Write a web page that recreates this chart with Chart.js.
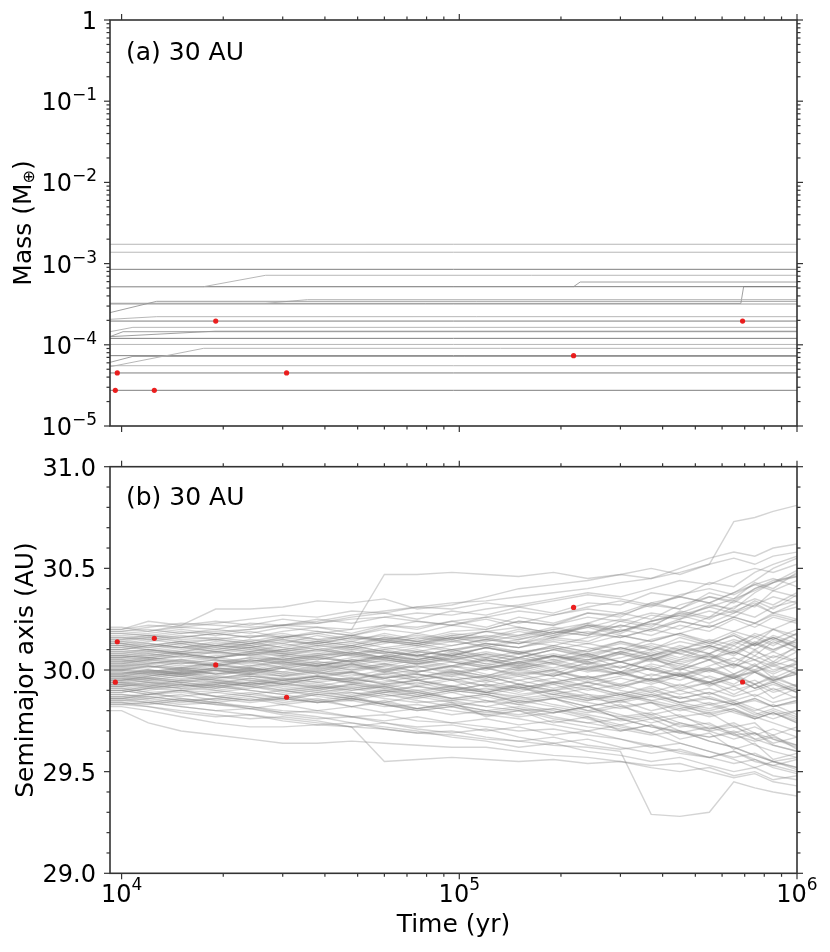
<!DOCTYPE html>
<html><head><meta charset="utf-8">
<script src="https://cdn.jsdelivr.net/npm/chart.js@4"></script>
<style>
html,body{margin:0;padding:0;background:#fff;width:830px;height:952px;overflow:hidden}
canvas{position:absolute;left:0}
#ca{top:0}
#cb{top:440px}
</style></head><body>
<canvas id="ca" width="830" height="440"></canvas>
<canvas id="cb" width="830" height="512"></canvas>
<script>
// ---------------- data ----------------
const timeMin = 9240, timeMax = 1e6;
const xMajorTicks = [1e4, 1e5, 1e6];
const xTickBase = ['10', '10', '10'];
const xTickExp = ['4', '5', '6'];
const xMinorTicks = [2e4,3e4,4e4,5e4,6e4,7e4,8e4,9e4,2e5,3e5,4e5,5e5,6e5,7e5,8e5,9e5];

const massMajorTicks = [1e-5, 1e-4, 1e-3, 1e-2, 1e-1, 1];
const massTickBase = ['10','10','10','10','10','1'];
const massTickExp = ['\u22125','\u22124','\u22123','\u22122','\u22121',''];
const massMinorTicks = [2e-5,3e-5,4e-5,5e-5,6e-5,7e-5,8e-5,9e-5,
  2e-4,3e-4,4e-4,5e-4,6e-4,7e-4,8e-4,9e-4,
  2e-3,3e-3,4e-3,5e-3,6e-3,7e-3,8e-3,9e-3,
  2e-2,3e-2,4e-2,5e-2,6e-2,7e-2,8e-2,9e-2,
  0.2,0.3,0.4,0.5,0.6,0.7,0.8,0.9];

const aMajorTicks = [29, 29.5, 30, 30.5, 31];
const aTickLabels = ['29.0', '29.5', '30.0', '30.5', '31.0'];
const aMinorTicks = [29.1,29.2,29.3,29.4,29.6,29.7,29.8,29.9,30.1,30.2,30.3,30.4,30.6,30.7,30.8,30.9];

// mass tracks of bodies (time, mass)
const massTrackTimes = [
  [9240, 1e6], [9240, 1e6], [9240, 1e6],
  [9240, 17500, 26700, 1e6],
  [9240, 218000, 228000, 1e6],
  [9240, 1e6],
  [9240, 12700, 1e6],
  [9240, 26700, 35500, 1e6],
  [9240, 682000, 695000, 1e6],
  [9240, 1e6],
  [9240, 12700, 1e6],
  [9240, 1e6],
  [9240, 10800, 1e6],
  [9240, 18900, 1e6],
  [9240, 10100, 1e6],
  [9240, 1e6], [9240, 1e6],
  [9240, 17500, 1e6],
  [9240, 1e6],
  [9240, 10800, 1e6],
  [9240, 1e6], [9240, 1e6], [9240, 1e6]
];
const massTrackValues = [
  [1.73e-3, 1.73e-3], [1.38e-3, 1.38e-3], [8.5e-4, 8.5e-4],
  [5.2e-4, 5.2e-4, 7.18e-4, 7.18e-4],
  [5.2e-4, 5.2e-4, 5.93e-4, 5.93e-4],
  [5.2e-4, 5.2e-4],
  [2.49e-4, 3.43e-4, 3.43e-4],
  [3.24e-4, 3.24e-4, 3.6e-4, 3.6e-4],
  [3.24e-4, 3.24e-4, 5.2e-4, 5.2e-4],
  [3.18e-4, 3.18e-4],
  [2.06e-4, 2.22e-4, 2.22e-4],
  [1.96e-4, 1.96e-4],
  [1.45e-4, 1.64e-4, 1.64e-4],
  [1.26e-4, 1.47e-4, 1.47e-4],
  [1.26e-4, 1.45e-4, 1.45e-4],
  [1.20e-4, 1.20e-4], [1.01e-4, 1.01e-4],
  [5.37e-5, 9.05e-5, 9.05e-5],
  [7.35e-5, 7.35e-5],
  [6.08e-5, 7.2e-5, 7.2e-5],
  [5.53e-5, 5.53e-5], [4.5e-5, 4.5e-5], [2.75e-5, 2.75e-5]
];
// style (0 = light, 1 = mid, 2 = dark) kept separate from data
const massTrackShade = [0,0,2, 0,1,2, 1,0,1,1, 0,2, 0,1,1, 2,0, 0,2,1, 0,2,2];

// marked events (red dots)
const eventTimes = [9710, 9580, 12500, 19000, 30800, 218000, 690000];
const eventMass  = [4.5e-5, 2.75e-5, 2.75e-5, 1.96e-4, 4.5e-5, 7.35e-5, 1.96e-4];
const eventA     = [30.139, 29.94, 30.156, 30.025, 29.866, 30.308, 29.941];

// semimajor axis tracks
const aTimes = [9240,10000,12000,15000,19000,24000,30000,38000,48000,60000,75000,95000,
  120000,150000,190000,240000,300000,370000,450000,550000,650000,750000,850000,1000000];
const aTracks = [
 [30.15,30.15,30.16,30.18,30.19,30.20,30.22,30.23,30.25,30.26,30.28,30.27,30.30,30.32,30.35,30.38,30.36,30.40,30.44,30.42,30.47,30.50,30.48,30.52],
 [29.88,29.88,29.87,29.85,29.83,29.82,29.80,29.79,29.77,29.78,29.75,29.74,29.72,29.70,29.71,29.68,29.66,29.62,29.64,29.60,29.57,29.59,29.55,29.52],
 [30.02,30.02,30.03,30.01,30.04,30.06,30.05,30.08,30.07,30.10,30.12,30.09,30.13,30.11,30.16,30.14,30.20,30.17,30.22,30.19,30.25,30.21,30.26,30.23],
 [29.97,29.97,29.96,29.98,29.95,29.93,29.94,29.91,29.92,29.89,29.90,29.86,29.88,29.84,29.86,29.82,29.85,29.80,29.83,29.78,29.81,29.76,29.79,29.74],
 [30.08,30.08,30.10,30.09,30.12,30.11,30.14,30.13,30.16,30.15,30.13,30.17,30.15,30.19,30.16,30.22,30.18,30.24,30.28,30.25,30.31,30.35,30.32,30.38],
 [29.92,29.92,29.93,29.91,29.90,29.92,29.89,29.91,29.88,29.90,29.87,29.90,29.93,29.89,29.94,29.97,29.93,29.98,29.95,30.00,29.96,30.02,29.98,30.03],
 [30.05,30.05,30.04,30.02,30.03,30.00,30.01,29.98,29.99,29.96,29.98,29.95,29.97,29.93,29.96,29.92,29.88,29.91,29.86,29.89,29.84,29.80,29.83,29.78],
 [30.12,30.12,30.11,30.13,30.10,30.12,30.09,30.11,30.08,30.10,30.07,30.05,30.08,30.04,30.07,30.03,30.06,30.10,30.06,30.12,30.08,30.14,30.10,30.15],
 [29.85,29.85,29.84,29.82,29.80,29.81,29.78,29.76,29.77,29.74,29.72,29.73,29.70,29.72,29.68,29.70,29.73,29.69,29.74,29.70,29.66,29.69,29.64,29.67],
 [30.18,30.18,30.19,30.21,30.20,30.23,30.22,30.25,30.23,30.26,30.24,30.22,30.25,30.21,30.18,30.21,30.17,30.14,30.18,30.13,30.17,30.12,30.16,30.11],
 [29.95,29.95,29.97,29.99,30.01,30.00,30.03,30.02,30.05,30.04,30.07,30.05,30.02,30.06,30.03,29.99,30.02,29.97,30.01,29.96,29.92,29.95,29.90,29.93],
 [30.00,30.00,29.99,29.98,29.96,29.97,29.95,29.93,29.90,29.92,29.89,29.86,29.84,29.87,29.83,29.80,29.77,29.79,29.74,29.71,29.74,29.69,29.66,29.63],
 [30.10,30.10,30.12,30.14,30.15,30.17,30.16,30.18,30.20,30.22,30.21,30.24,30.26,30.23,30.27,30.30,30.28,30.33,30.36,30.33,30.38,30.42,30.39,30.44],
 [29.90,29.90,29.88,29.89,29.87,29.85,29.86,29.84,29.85,29.82,29.83,29.80,29.78,29.80,29.76,29.74,29.71,29.68,29.70,29.65,29.62,29.58,29.55,29.57],
 [30.04,30.04,30.06,30.05,30.07,30.09,30.08,30.06,30.04,30.06,30.03,30.05,30.08,30.06,30.10,30.07,30.11,30.08,30.04,30.07,30.02,30.05,30.00,30.03],
 [29.98,29.98,30.00,29.99,30.01,29.99,30.02,30.04,30.03,30.06,30.09,30.07,30.11,30.14,30.12,30.16,30.19,30.23,30.20,30.26,30.29,30.26,30.31,30.34],
 [30.14,30.14,30.13,30.11,30.12,30.10,30.08,30.10,30.07,30.05,30.08,30.04,30.01,30.03,29.99,29.96,29.99,29.95,29.98,29.93,29.96,29.91,29.94,29.89],
 [29.87,29.87,29.88,29.90,29.89,29.91,29.93,29.92,29.95,29.94,29.97,29.99,29.96,30.00,29.97,30.01,30.04,30.00,30.05,30.08,30.04,30.09,30.06,30.11],
 [30.20,30.20,30.22,30.21,30.23,30.25,30.27,30.26,30.29,30.28,30.31,30.30,30.33,30.31,30.34,30.37,30.35,30.32,30.36,30.33,30.29,30.33,30.28,30.31],
 [29.83,29.83,29.82,29.80,29.78,29.76,29.77,29.75,29.72,29.74,29.71,29.69,29.71,29.67,29.64,29.66,29.62,29.59,29.61,29.57,29.54,29.56,29.52,29.49],
 [30.07,30.07,30.06,30.08,30.06,30.04,30.06,30.03,30.01,30.03,29.99,30.02,29.98,29.95,29.98,29.94,29.97,30.01,29.97,30.02,30.06,30.02,30.07,30.04],
 [29.93,29.93,29.95,29.94,29.96,29.98,29.97,30.00,29.98,29.96,29.99,30.02,30.00,30.04,30.07,30.05,30.09,30.13,30.10,30.15,30.12,30.18,30.15,30.20],
 [30.11,30.11,30.10,30.08,30.09,30.07,30.05,30.02,30.04,30.01,29.98,29.95,29.97,29.93,29.90,29.92,29.88,29.85,29.87,29.83,29.85,29.81,29.78,29.80],
 [29.96,29.96,29.94,29.93,29.91,29.93,29.90,29.92,29.89,29.87,29.89,29.86,29.88,29.85,29.87,29.84,29.81,29.84,29.80,29.83,29.79,29.76,29.79,29.75],
 [30.03,30.03,30.05,30.07,30.06,30.08,30.10,30.12,30.11,30.14,30.13,30.16,30.14,30.17,30.20,30.18,30.22,30.20,30.25,30.29,30.26,30.32,30.36,30.33],
 [29.89,29.89,29.91,29.90,29.92,29.90,29.88,29.90,29.87,29.89,29.92,29.90,29.93,29.91,29.88,29.91,29.87,29.90,29.86,29.89,29.85,29.88,29.84,29.87],
 [30.16,30.16,30.17,30.15,30.16,30.14,30.17,30.15,30.13,30.16,30.14,30.12,30.15,30.13,30.16,30.19,30.16,30.20,30.24,30.21,30.26,30.23,30.27,30.24],
 [29.94,29.94,29.93,29.95,29.94,29.92,29.90,29.88,29.89,29.86,29.84,29.85,29.82,29.80,29.81,29.78,29.75,29.77,29.73,29.70,29.72,29.68,29.71,29.67],
 [30.06,30.06,30.07,30.09,30.08,30.10,30.09,30.07,30.09,30.06,30.04,30.07,30.05,30.02,30.05,30.01,30.04,30.00,29.97,30.00,29.96,29.99,30.02,29.98],
 [29.99,29.99,29.98,30.00,30.02,30.01,29.99,29.97,29.99,29.96,29.98,29.95,29.92,29.95,29.91,29.94,29.90,29.87,29.90,29.86,29.83,29.86,29.82,29.85],
 [30.19,30.19,30.21,30.23,30.22,30.21,30.22,30.21,30.20,30.47,30.47,30.48,30.47,30.46,30.48,30.45,30.47,30.50,30.47,30.52,30.55,30.52,30.56,30.58],
 [29.82,29.82,29.80,29.77,29.74,29.72,29.72,29.73,29.72,29.55,29.56,29.57,29.56,29.55,29.56,29.54,29.55,29.52,29.50,29.52,29.48,29.50,29.46,29.48],
 [30.12,30.12,30.14,30.16,30.18,30.20,30.22,30.24,30.27,30.29,30.31,30.33,30.34,30.36,30.38,30.40,30.43,30.45,30.48,30.52,30.73,30.75,30.78,30.81],
 [29.86,29.86,29.84,29.82,29.80,29.78,29.76,29.74,29.72,29.71,29.69,29.68,29.66,29.65,29.63,29.62,29.60,29.29,29.28,29.30,29.45,29.42,29.40,29.38],
 [30.20,30.20,30.24,30.22,30.30,30.30,30.31,30.34,30.33,30.35,30.30,30.32,30.36,30.40,30.42,30.44,30.47,30.45,30.50,30.55,30.58,30.56,30.60,30.62],
 [29.80,29.80,29.74,29.70,29.68,29.66,29.64,29.64,29.65,29.64,29.63,29.62,29.62,29.60,29.58,29.57,29.55,29.53,29.54,29.50,29.47,29.49,29.45,29.43],
 [30.13,30.13,30.15,30.13,30.11,30.13,30.16,30.19,30.17,30.21,30.24,30.22,30.26,30.29,30.27,30.31,30.34,30.31,30.37,30.40,30.37,30.42,30.45,30.41],
 [29.91,29.91,29.89,29.86,29.84,29.82,29.79,29.77,29.74,29.72,29.70,29.67,29.65,29.62,29.64,29.60,29.58,29.55,29.57,29.53,29.50,29.52,29.48,29.46],
 [30.01,30.01,30.03,30.05,30.03,30.06,30.04,30.07,30.10,30.08,30.11,30.14,30.12,30.15,30.18,30.22,30.19,30.24,30.27,30.31,30.35,30.39,30.43,30.47],
 [29.95,29.95,29.94,29.92,29.93,29.90,29.88,29.85,29.87,29.83,29.80,29.82,29.78,29.76,29.73,29.70,29.66,29.63,29.60,29.57,29.60,29.56,29.53,29.50],
 [30.09,30.09,30.08,30.10,30.12,30.11,30.13,30.10,30.12,30.09,30.07,30.10,30.06,30.09,30.05,30.08,30.04,30.07,30.11,30.08,30.13,30.17,30.13,30.18],
 [29.86,29.86,29.87,29.85,29.86,29.84,29.86,29.88,29.86,29.89,29.87,29.90,29.88,29.91,29.94,29.92,29.96,29.93,29.97,29.94,29.98,30.02,29.99,30.04],
 [30.04,30.04,30.02,30.00,29.98,29.99,29.97,29.95,29.96,29.93,29.95,29.92,29.90,29.93,29.89,29.86,29.89,29.85,29.82,29.79,29.81,29.77,29.74,29.70],
 [29.97,29.97,29.99,30.01,30.00,30.02,30.05,30.03,30.06,30.09,30.07,30.10,30.13,30.11,30.15,30.13,30.17,30.14,30.18,30.22,30.19,30.16,30.20,30.17],
 [30.17,30.17,30.18,30.20,30.18,30.16,30.18,30.15,30.17,30.14,30.12,30.15,30.11,30.08,30.11,30.07,30.04,30.07,30.03,30.00,30.03,29.99,29.95,29.98],
 [29.84,29.84,29.83,29.85,29.83,29.81,29.83,29.80,29.82,29.79,29.81,29.78,29.80,29.77,29.79,29.82,29.78,29.74,29.77,29.73,29.69,29.72,29.68,29.72],
 [30.00,30.00,30.02,30.01,30.03,30.05,30.04,30.02,30.05,30.07,30.05,30.08,30.11,30.09,30.06,30.10,30.14,30.11,30.08,30.12,30.09,30.13,30.10,30.14],
 [29.93,29.93,29.92,29.94,29.92,29.94,29.96,29.94,29.91,29.93,29.90,29.92,29.89,29.86,29.88,29.85,29.88,29.92,29.88,29.91,29.87,29.90,29.93,29.89],
 [30.05,30.05,30.06,30.04,30.06,30.08,30.07,30.10,30.08,30.11,30.09,30.12,30.15,30.13,30.17,30.21,30.25,30.22,30.28,30.33,30.38,30.44,30.50,30.55],
 [29.96,29.96,29.95,29.97,29.95,29.93,29.95,29.92,29.90,29.92,29.88,29.85,29.87,29.83,29.80,29.76,29.72,29.69,29.64,29.60,29.56,29.52,29.55,29.51],
 [30.10,30.10,30.09,30.11,30.13,30.12,30.10,30.13,30.11,30.14,30.12,30.16,30.16,30.13,30.19,30.17,30.24,30.21,30.29,30.26,30.34,30.31,30.39,30.36],
 [29.90,29.90,29.92,29.91,29.93,29.95,29.93,29.96,29.94,29.91,29.94,29.90,29.88,29.84,29.86,29.80,29.83,29.76,29.78,29.71,29.73,29.66,29.68,29.61],
 [30.03,30.03,30.01,30.04,30.02,30.05,30.03,30.00,30.03,29.99,30.02,29.98,30.01,29.97,30.00,29.95,29.99,29.94,29.98,29.92,29.97,29.91,29.95,29.90],
 [29.97,29.97,29.99,29.97,30.00,29.98,30.01,29.99,30.03,30.00,30.04,30.01,30.05,30.02,30.07,30.03,30.08,30.04,30.10,30.05,30.12,30.07,30.14,30.09],
 [30.13,30.13,30.12,30.14,30.12,30.15,30.13,30.17,30.14,30.18,30.15,30.19,30.20,30.24,30.22,30.28,30.26,30.33,30.30,30.38,30.35,30.43,30.40,30.48],
 [29.88,29.88,29.86,29.88,29.85,29.87,29.84,29.86,29.82,29.85,29.81,29.84,29.77,29.80,29.74,29.77,29.70,29.73,29.66,29.69,29.61,29.64,29.56,29.59],
 [30.06,30.06,30.08,30.06,30.09,30.07,30.10,30.08,30.11,30.08,30.05,30.09,30.04,30.08,30.03,30.07,30.01,30.06,30.00,30.05,29.98,30.03,29.96,30.01],
 [29.94,29.94,29.92,29.95,29.93,29.96,29.94,29.97,29.95,29.99,29.96,30.00,29.97,30.02,29.98,30.04,29.99,30.06,30.01,30.08,30.02,30.10,30.04,30.12],
 [30.00,30.00,30.02,30.00,29.98,30.01,29.98,29.96,29.99,29.95,29.93,29.96,29.92,29.90,29.93,29.88,29.86,29.89,29.84,29.81,29.84,29.79,29.76,29.80],
 [30.08,30.08,30.07,30.09,30.11,30.09,30.12,30.14,30.12,30.15,30.17,30.15,30.19,30.21,30.18,30.23,30.28,30.25,30.32,30.36,30.33,30.40,30.44,30.46],
 [29.92,29.92,29.94,29.96,29.95,29.97,29.96,29.94,29.96,29.93,29.95,29.92,29.95,29.91,29.94,29.90,29.93,29.89,29.93,29.88,29.92,29.87,29.91,29.86],
 [30.16,30.16,30.15,30.17,30.15,30.13,30.15,30.12,30.14,30.11,30.13,30.10,30.12,30.09,30.11,30.08,30.11,30.07,30.10,30.06,30.09,30.05,30.09,30.04],
 [29.85,29.85,29.86,29.84,29.86,29.88,29.86,29.89,29.87,29.90,29.88,29.91,29.89,29.93,29.90,29.94,29.91,29.96,29.92,29.97,29.93,29.99,29.94,30.00],
 [30.02,30.02,30.04,30.03,30.05,30.04,30.07,30.05,30.08,30.06,30.09,30.07,30.11,30.08,30.12,30.09,30.14,30.10,30.16,30.12,30.18,30.13,30.20,30.15],
 [29.99,29.99,29.97,29.99,29.96,29.98,29.95,29.97,29.93,29.96,29.92,29.95,29.89,29.92,29.86,29.88,29.82,29.84,29.77,29.79,29.72,29.74,29.66,29.62],
 [30.11,30.11,30.13,30.11,30.14,30.12,30.15,30.13,30.16,30.14,30.18,30.15,30.19,30.17,30.21,30.18,30.16,30.20,30.17,30.13,30.17,30.12,30.16,30.11],
 [29.95,29.95,29.96,29.94,29.92,29.94,29.91,29.89,29.91,29.88,29.86,29.89,29.85,29.83,29.86,29.82,29.85,29.88,29.84,29.87,29.83,29.86,29.82,29.85],
 [30.05,30.05,30.03,30.05,30.02,30.04,30.01,30.03,30.00,30.02,29.99,30.02,30.05,30.01,30.04,30.08,30.04,30.09,30.05,30.11,30.07,30.13,30.09,30.15],
 [29.91,29.91,29.89,29.90,29.87,29.89,29.86,29.84,29.86,29.83,29.81,29.83,29.80,29.78,29.81,29.77,29.73,29.76,29.70,29.67,29.69,29.63,29.60,29.57],
 [30.18,30.18,30.17,30.19,30.17,30.19,30.16,30.18,30.15,30.17,30.14,30.17,30.19,30.16,30.20,30.23,30.19,30.24,30.27,30.23,30.28,30.32,30.28,30.33],
 [29.87,29.87,29.85,29.83,29.84,29.81,29.79,29.80,29.77,29.75,29.77,29.74,29.76,29.73,29.75,29.72,29.70,29.73,29.69,29.67,29.70,29.66,29.63,29.60],
 [30.07,30.07,30.09,30.08,30.10,30.13,30.11,30.14,30.12,30.16,30.14,30.18,30.16,30.20,30.17,30.22,30.21,30.27,30.25,30.32,30.30,30.38,30.43,30.49],
 [29.98,29.98,29.96,29.98,30.00,29.98,30.01,29.98,30.02,29.99,30.03,30.00,29.97,30.01,29.97,30.02,29.98,29.95,29.99,29.94,29.98,29.93,29.97,29.92],
 [30.14,30.14,30.16,30.14,30.12,30.14,30.11,30.09,30.12,30.09,30.07,30.10,30.07,30.05,30.08,30.05,30.09,30.06,30.03,30.07,30.03,30.00,30.04,30.01],
 [29.93,29.93,29.91,29.93,29.90,29.88,29.90,29.87,29.85,29.88,29.85,29.82,29.85,29.81,29.79,29.82,29.76,29.72,29.70,29.65,29.62,29.58,29.55,29.52],
 [30.04,30.04,30.05,30.07,30.05,30.03,30.06,30.04,30.02,30.05,30.03,30.06,30.09,30.06,30.10,30.13,30.10,30.15,30.18,30.14,30.19,30.23,30.20,30.25],
 [29.89,29.89,29.91,29.93,29.91,29.94,29.92,29.90,29.93,29.91,29.89,29.92,29.89,29.87,29.90,29.86,29.84,29.87,29.83,29.80,29.83,29.78,29.81,29.77],
 [30.09,30.09,30.10,30.08,30.06,30.08,30.05,30.07,30.04,30.07,30.10,30.07,30.11,30.08,30.12,30.09,30.13,30.10,30.14,30.11,30.15,30.12,30.17,30.13],
 [29.96,29.96,29.98,29.97,29.99,30.01,29.99,30.02,30.00,30.03,30.01,30.04,30.02,30.00,30.03,30.00,30.04,30.00,29.97,30.01,29.96,30.00,29.95,29.99],
 [30.01,30.01,29.99,30.01,29.98,30.00,29.97,29.99,29.96,29.98,29.95,29.97,29.94,29.97,29.93,29.96,29.92,29.95,29.91,29.94,29.90,29.93,29.89,29.92],
 [30.21,30.21,30.19,30.22,30.24,30.22,30.25,30.23,30.26,30.28,30.25,30.29,30.27,30.31,30.28,30.33,30.32,30.38,30.36,30.43,30.41,30.48,30.52,30.56],
 [29.84,29.84,29.82,29.79,29.77,29.78,29.75,29.73,29.74,29.71,29.69,29.70,29.67,29.65,29.67,29.63,29.61,29.63,29.59,29.57,29.60,29.55,29.53,29.56],
 [30.12,30.12,30.10,30.12,30.09,30.11,30.08,30.06,30.09,30.06,30.04,30.07,30.03,30.01,30.04,30.00,29.98,30.01,29.97,29.94,29.97,29.93,29.96,29.92],
 [29.92,29.92,29.90,29.92,29.94,29.92,29.95,29.97,29.95,29.98,30.00,29.97,30.01,30.04,30.01,30.05,30.08,30.05,30.09,30.12,30.08,30.13,30.16,30.12],
 [30.06,30.06,30.05,30.03,30.05,30.02,30.04,30.01,30.03,30.00,30.02,29.99,30.01,29.98,30.00,29.96,29.99,29.95,29.98,29.93,29.96,29.91,29.94,29.89],
 [29.98,29.98,30.00,29.98,30.01,29.99,30.02,29.99,29.97,30.00,29.96,29.99,29.95,29.98,29.94,29.97,29.92,29.96,29.90,29.94,29.88,29.93,29.86,29.91],
 [30.15,30.15,30.17,30.16,30.18,30.16,30.19,30.21,30.18,30.22,30.20,30.24,30.21,30.26,30.23,30.28,30.27,30.32,30.30,30.36,30.34,30.40,30.43,30.46],
 [29.86,29.86,29.88,29.87,29.89,29.87,29.85,29.88,29.86,29.84,29.87,29.84,29.82,29.85,29.82,29.79,29.82,29.78,29.81,29.77,29.80,29.76,29.79,29.74],
 [30.03,30.03,30.05,30.04,30.02,30.05,30.03,30.06,30.04,30.07,30.05,30.08,30.06,30.03,30.07,30.04,30.01,30.05,30.02,29.99,30.03,29.99,30.03,29.98],
 [29.94,29.94,29.96,29.95,29.97,29.95,29.93,29.96,29.94,29.97,29.95,29.98,29.96,29.99,29.97,30.01,29.98,30.03,30.00,30.05,30.01,30.07,30.03,30.09],
 [30.10,30.10,30.12,30.11,30.09,30.11,30.09,30.12,30.10,30.13,30.16,30.14,30.17,30.15,30.19,30.17,30.22,30.19,30.24,30.21,30.26,30.23,30.28,30.25],
 [29.90,29.90,29.88,29.90,29.87,29.85,29.87,29.84,29.86,29.83,29.80,29.82,29.79,29.81,29.77,29.74,29.76,29.72,29.69,29.72,29.68,29.65,29.67,29.63],
 [30.00,30.00,29.98,30.00,30.03,30.01,30.04,30.02,30.05,30.03,30.06,30.04,30.01,30.04,30.00,30.03,29.99,30.02,29.98,30.01,29.97,29.99,29.95,29.98],
 [30.19,30.19,30.20,30.18,30.20,30.18,30.21,30.19,30.17,30.20,30.18,30.22,30.20,30.24,30.22,30.26,30.24,30.28,30.26,30.31,30.28,30.34,30.30,30.37],
 [29.83,29.83,29.84,29.86,29.84,29.86,29.83,29.85,29.82,29.84,29.81,29.83,29.80,29.82,29.79,29.82,29.76,29.78,29.72,29.74,29.68,29.69,29.63,29.60],
 [30.07,30.07,30.06,30.08,30.06,30.09,30.07,30.05,30.08,30.05,30.03,30.06,30.03,30.06,30.10,30.06,30.11,30.07,30.12,30.08,30.14,30.10,30.15,30.11],
 [29.97,29.97,29.95,29.97,29.94,29.96,29.93,29.91,29.93,29.90,29.92,29.89,29.91,29.88,29.90,29.87,29.85,29.88,29.84,29.86,29.83,29.85,29.82,29.84],
 [30.13,30.13,30.11,30.13,30.15,30.13,30.16,30.14,30.17,30.15,30.13,30.16,30.13,30.11,30.14,30.11,30.08,30.12,30.08,30.05,30.09,30.05,30.02,30.06],
 [29.95,29.95,29.97,29.99,29.97,30.00,29.98,30.01,29.99,30.02,30.05,30.02,30.06,30.03,30.07,30.04,30.09,30.05,30.10,30.14,30.10,30.16,30.12,30.18],
 [30.02,30.02,30.00,29.98,30.00,29.97,29.95,29.97,29.94,29.92,29.95,29.91,29.89,29.92,29.88,29.85,29.88,29.84,29.81,29.84,29.80,29.77,29.80,29.76]
];

// ---------------- drawing ----------------
const FONT = '"DejaVu Sans", sans-serif';
const shadeColors = ['rgba(175,175,175,0.9)', 'rgba(150,150,150,0.9)', 'rgba(120,120,120,0.95)'];

function powLabel(ctx, base, exp, x, y, align, expRaise) {
  ctx.font = '24px ' + FONT;
  const wb = ctx.measureText(base).width;
  ctx.font = '17px ' + FONT;
  const we = exp ? ctx.measureText(exp).width : 0;
  const total = wb + we;
  const x0 = align === 'right' ? x - total : x - total / 2;
  ctx.textAlign = 'left'; ctx.textBaseline = 'alphabetic';
  ctx.font = '24px ' + FONT;
  ctx.fillText(base, x0, y);
  if (exp) { ctx.font = '17px ' + FONT; ctx.fillText(exp, x0 + wb, y - expRaise); }
}

function drawFrame(chart, yMajor, yMinor) {
  const {ctx, chartArea: ca, scales} = chart;
  const xs = scales.x, ys = scales.y;
  ctx.save();
  ctx.strokeStyle = '#333';
  ctx.lineWidth = 1.2;
  const tick = (x1, y1, x2, y2) => { ctx.beginPath(); ctx.moveTo(x1, y1); ctx.lineTo(x2, y2); ctx.stroke(); };
  xMajorTicks.forEach(t => { const p = xs.getPixelForValue(t); tick(p, ca.bottom, p, ca.bottom + 6); tick(p, ca.top, p, ca.top - 6); });
  xMinorTicks.forEach(t => { const p = xs.getPixelForValue(t); tick(p, ca.bottom, p, ca.bottom + 3.5); tick(p, ca.top, p, ca.top - 3.5); });
  yMajor.forEach(v => { const p = ys.getPixelForValue(v); tick(ca.left, p, ca.left - 6, p); tick(ca.right, p, ca.right + 6, p); });
  yMinor.forEach(v => { const p = ys.getPixelForValue(v); tick(ca.left, p, ca.left - 3.5, p); tick(ca.right, p, ca.right + 3.5, p); });
  ctx.lineWidth = 1.6;
  ctx.strokeRect(ca.left, ca.top, ca.right - ca.left, ca.bottom - ca.top);
  ctx.restore();
}

const framePluginA = {
  id: 'frameA',
  afterDraw(chart) {
    const {ctx, chartArea: ca, scales} = chart;
    drawFrame(chart, massMajorTicks, massMinorTicks);
    ctx.save();
    ctx.fillStyle = '#000';
    massMajorTicks.forEach((v, i) => {
      const p = scales.y.getPixelForValue(v);
      powLabel(ctx, massTickBase[i], massTickExp[i], ca.left - 13, p + 9, 'right', 10);
    });
    ctx.font = '25px ' + FONT; ctx.textAlign = 'left'; ctx.textBaseline = 'alphabetic';
    ctx.fillText('(a) 30 AU', 126, 59.5);
    // y title with subscript
    ctx.translate(31, (ca.top + ca.bottom) / 2);
    ctx.rotate(-Math.PI / 2);
    ctx.font = '25px ' + FONT;
    const t1 = 'Mass (M', t3 = ')';
    const w1 = ctx.measureText(t1).width, w3 = ctx.measureText(t3).width;
    ctx.font = '16px ' + FONT;
    const w2 = ctx.measureText('\u2295').width;
    let x0 = -(w1 + w2 + w3) / 2;
    ctx.font = '25px ' + FONT; ctx.fillText(t1, x0, 0);
    ctx.font = '16px ' + FONT; ctx.fillText('\u2295', x0 + w1, 3);
    ctx.font = '25px ' + FONT; ctx.fillText(t3, x0 + w1 + w2, 0);
    ctx.restore();
  }
};

const framePluginB = {
  id: 'frameB',
  afterDraw(chart) {
    const {ctx, chartArea: ca, scales} = chart;
    drawFrame(chart, aMajorTicks, aMinorTicks);
    ctx.save();
    ctx.fillStyle = '#000';
    ctx.font = '24px ' + FONT; ctx.textAlign = 'right'; ctx.textBaseline = 'alphabetic';
    aMajorTicks.forEach((v, i) => {
      const p = scales.y.getPixelForValue(v);
      ctx.fillText(aTickLabels[i], ca.left - 14, p + 9);
    });
    xMajorTicks.forEach((t, i) => {
      const p = scales.x.getPixelForValue(t);
      powLabel(ctx, xTickBase[i], xTickExp[i], p, ca.bottom + 29, 'center', 12);
    });
    ctx.textAlign = 'left';
    ctx.font = '25px ' + FONT;
    ctx.fillText('(b) 30 AU', 126, 65);
    ctx.restore();
  }
};

const eventStyle = {type: 'line', showLine: false, pointRadius: 2.6, pointBorderWidth: 0,
  pointBackgroundColor: 'rgba(235,20,20,0.95)', order: -1};

const massDatasets = massTrackTimes.map((ts, k) => ({
  type: 'line',
  data: ts.map((t, i) => ({x: t, y: massTrackValues[k][i]})),
  borderColor: shadeColors[massTrackShade[k]], borderWidth: 1, pointRadius: 0, tension: 0, fill: false
}));
const aDatasets = aTracks.map(v => ({
  type: 'line',
  data: v.map((y, i) => ({x: aTimes[i], y})).filter(p => p.x !== undefined),
  borderColor: 'rgba(130,130,130,0.34)', borderWidth: 1.4, pointRadius: 0, tension: 0, fill: false
}));

const common = (padTop) => ({
  responsive: false, animation: false, devicePixelRatio: 1,
  plugins: {legend: {display: false}, tooltip: {enabled: false}},
  layout: {padding: {left: 0, right: 33, top: padTop, bottom: 0}}
});

const optsA = common(20);
optsA.scales = {
  x: {type: 'logarithmic', min: timeMin, max: timeMax, position: 'bottom',
      ticks: {display: false}, grid: {display: false, drawTicks: false}, border: {display: false},
      afterFit: s => { s.height = 14; }},
  y: {type: 'logarithmic', min: 1e-5, max: 1, position: 'left',
      ticks: {display: false}, grid: {display: false, drawTicks: false}, border: {display: false},
      afterFit: s => { s.width = 110; }}
};
new Chart(document.getElementById('ca'), {
  type: 'line',
  data: {datasets: [Object.assign({data: eventTimes.map((t, i) => ({x: t, y: eventMass[i]}))}, eventStyle), ...massDatasets]},
  options: optsA,
  plugins: [framePluginA]
});

const optsB = common(26.7);
optsB.scales = {
  x: {type: 'logarithmic', min: timeMin, max: timeMax, position: 'bottom',
      ticks: {display: false}, grid: {display: false, drawTicks: false}, border: {display: false},
      title: {display: true, text: 'Time (yr)', color: '#000', font: {family: FONT, size: 25}, padding: {top: 0, bottom: 12}},
      afterFit: s => { s.height = 78.7; }},
  y: {type: 'linear', min: 29, max: 31, position: 'left',
      ticks: {display: false}, grid: {display: false, drawTicks: false}, border: {display: false},
      title: {display: true, text: 'Semimajor axis (AU)', color: '#000', font: {family: FONT, size: 25}, padding: {top: 11, bottom: 0}},
      afterFit: s => { s.width = 110; }}
};
new Chart(document.getElementById('cb'), {
  type: 'line',
  data: {datasets: [Object.assign({data: eventTimes.map((t, i) => ({x: t, y: eventA[i]}))}, eventStyle), ...aDatasets]},
  options: optsB,
  plugins: [framePluginB]
});
</script>
</body></html>
